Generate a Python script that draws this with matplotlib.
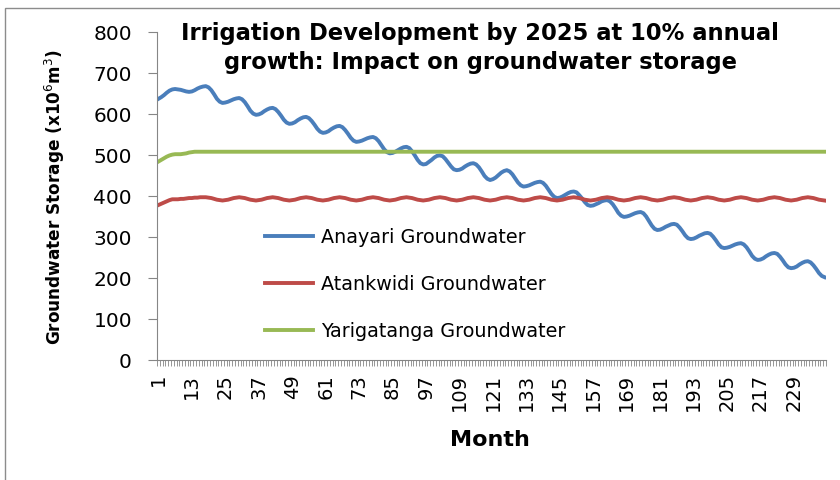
import matplotlib
matplotlib.use("Agg")
import matplotlib.pyplot as plt
from matplotlib.patches import Rectangle

# monthly groundwater storage (x10^6 m3), months 1..240, one row per year
anayari = [
    637, 641, 646, 652, 657, 660, 661, 660, 659, 657, 655, 654,
    655, 658, 662, 665, 667, 668, 665, 658, 648, 637, 630, 627,
    628, 630, 633, 636, 638, 639, 636, 629, 619, 608, 601, 598,
    599, 602, 607, 611, 614, 615, 612, 605, 596, 586, 579, 576,
    577, 580, 585, 589, 592, 593, 590, 583, 574, 564, 557, 554,
    555, 558, 563, 567, 570, 571, 568, 561, 552, 542, 535, 532,
    533, 535, 538, 541, 543, 544, 541, 534, 524, 514, 507, 504,
    505, 508, 512, 516, 519, 520, 517, 509, 499, 488, 480, 477,
    478, 483, 488, 494, 498, 499, 497, 490, 481, 472, 465, 463,
    464, 467, 472, 476, 479, 480, 477, 470, 460, 449, 442, 439,
    441, 445, 451, 457, 461, 463, 460, 453, 443, 433, 426, 423,
    424, 426, 429, 432, 434, 435, 432, 425, 415, 405, 398, 395,
    396, 399, 403, 407, 410, 411, 409, 402, 394, 385, 378, 376,
    377, 380, 383, 387, 389, 390, 387, 380, 370, 359, 352, 349,
    350, 352, 355, 358, 360, 361, 358, 350, 339, 328, 320, 317,
    318, 321, 325, 328, 331, 332, 330, 323, 314, 304, 297, 295,
    296, 299, 303, 306, 309, 310, 308, 301, 292, 282, 275, 273,
    274, 276, 279, 282, 284, 285, 282, 275, 265, 254, 247, 244,
    245, 248, 253, 257, 260, 261, 259, 252, 243, 233, 226, 224,
    225, 228, 233, 237, 240, 241, 238, 231, 222, 212, 205, 202,
]

atankwidi = [
    378, 381, 384, 387, 390, 392, 392, 392, 393, 393, 394, 395,
    395, 396, 396, 397, 397, 397, 396, 395, 393, 391, 390, 389,
    390, 391, 393, 395, 396, 397, 396, 395, 393, 391, 390, 389,
    390, 391, 393, 395, 396, 397, 396, 395, 393, 391, 390, 389,
    390, 391, 393, 395, 396, 397, 396, 395, 393, 391, 390, 389,
    390, 391, 393, 395, 396, 397, 396, 395, 393, 391, 390, 389,
    390, 391, 393, 395, 396, 397, 396, 395, 393, 391, 390, 389,
    390, 391, 393, 395, 396, 397, 396, 395, 393, 391, 390, 389,
    390, 391, 393, 395, 396, 397, 396, 395, 393, 391, 390, 389,
    390, 391, 393, 395, 396, 397, 396, 395, 393, 391, 390, 389,
    390, 391, 393, 395, 396, 397, 396, 395, 393, 391, 390, 389,
    390, 391, 393, 395, 396, 397, 396, 395, 393, 391, 390, 389,
    390, 391, 393, 395, 396, 397, 396, 395, 393, 391, 390, 389,
    390, 391, 393, 395, 396, 397, 396, 395, 393, 391, 390, 389,
    390, 391, 393, 395, 396, 397, 396, 395, 393, 391, 390, 389,
    390, 391, 393, 395, 396, 397, 396, 395, 393, 391, 390, 389,
    390, 391, 393, 395, 396, 397, 396, 395, 393, 391, 390, 389,
    390, 391, 393, 395, 396, 397, 396, 395, 393, 391, 390, 389,
    390, 391, 393, 395, 396, 397, 396, 395, 393, 391, 390, 389,
    390, 391, 393, 395, 396, 397, 396, 395, 393, 391, 390, 389,
]

yarigatanga = [
    484, 488, 492, 496, 499, 501, 502, 502, 502, 503, 504, 506,
    507, 508, 508, 508, 508, 508, 508, 508, 508, 508, 508, 508,
    508, 508, 508, 508, 508, 508, 508, 508, 508, 508, 508, 508,
    508, 508, 508, 508, 508, 508, 508, 508, 508, 508, 508, 508,
    508, 508, 508, 508, 508, 508, 508, 508, 508, 508, 508, 508,
    508, 508, 508, 508, 508, 508, 508, 508, 508, 508, 508, 508,
    508, 508, 508, 508, 508, 508, 508, 508, 508, 508, 508, 508,
    508, 508, 508, 508, 508, 508, 508, 508, 508, 508, 508, 508,
    508, 508, 508, 508, 508, 508, 508, 508, 508, 508, 508, 508,
    508, 508, 508, 508, 508, 508, 508, 508, 508, 508, 508, 508,
    508, 508, 508, 508, 508, 508, 508, 508, 508, 508, 508, 508,
    508, 508, 508, 508, 508, 508, 508, 508, 508, 508, 508, 508,
    508, 508, 508, 508, 508, 508, 508, 508, 508, 508, 508, 508,
    508, 508, 508, 508, 508, 508, 508, 508, 508, 508, 508, 508,
    508, 508, 508, 508, 508, 508, 508, 508, 508, 508, 508, 508,
    508, 508, 508, 508, 508, 508, 508, 508, 508, 508, 508, 508,
    508, 508, 508, 508, 508, 508, 508, 508, 508, 508, 508, 508,
    508, 508, 508, 508, 508, 508, 508, 508, 508, 508, 508, 508,
    508, 508, 508, 508, 508, 508, 508, 508, 508, 508, 508, 508,
    508, 508, 508, 508, 508, 508, 508, 508, 508, 508, 508, 508,
]

months = list(range(1, len(anayari) + 1))
month_labels = months[::12]
series_names = ['Anayari Groundwater', 'Atankwidi Groundwater', 'Yarigatanga Groundwater']

plt.rcParams['font.family'] = ['DejaVu Sans']

fig = plt.figure(figsize=(8.4, 4.8), dpi=100)
ax = fig.add_axes([0.1869, 0.25, 0.7964, 0.6833])

ax.plot(months, anayari, color='#4A7EBB', lw=2.8, solid_joinstyle='round', label=series_names[0])
ax.plot(months, atankwidi, color='#BE4B48', lw=2.8, solid_joinstyle='round', label=series_names[1])
ax.plot(months, yarigatanga, color='#98B954', lw=2.8, solid_joinstyle='round', label=series_names[2])

ax.set_xlim(0.5, len(months) + 0.5)
ax.set_ylim(0, 800)
ax.set_yticks(range(0, 801, 100))
ax.set_xticks(month_labels)
ax.set_xticklabels([str(m) for m in month_labels], rotation=90, va='top')
ax.set_xticks([m + 0.5 for m in [0] + months], minor=True)

for side in ['top', 'right']:
    ax.spines[side].set_visible(False)
for side in ['left', 'bottom']:
    ax.spines[side].set_color('#868686')
ax.tick_params(axis='y', length=6.5, width=0.8, color='#868686', pad=11.5, labelsize=14.5)
ax.tick_params(axis='x', which='major', length=0, pad=10, labelsize=14)
ax.tick_params(axis='x', which='minor', length=4, width=0.6, color='#868686')

ax.legend(loc='upper left', bbox_to_anchor=(265 / 840, 1 - 228 / 480),
          bbox_transform=fig.transFigure, frameon=False, fontsize=13.8,
          handlelength=2.5, handletextpad=0.4, labelspacing=1.45,
          borderpad=0, borderaxespad=0)

fig.text(480 / 840, 1 - 48 / 480,
         'Irrigation Development by 2025 at 10% annual\ngrowth: Impact on groundwater storage',
         ha='center', va='center', fontsize=16.3, fontweight='bold', linespacing=1.35)
fig.text(55 / 840, 1 - 197 / 480, 'Groundwater Storage (x10$^6$m$^3$)',
         rotation=90, ha='center', va='center', fontsize=12.2, fontweight='bold')
fig.text(490 / 840, 1 - 440 / 480, 'Month', ha='center', va='center',
         fontsize=16, fontweight='bold')

# chart area outline
fig.patches.append(Rectangle((5 / 840, -0.1), 1.2, 1.1 - 8 / 480, fill=False,
                             edgecolor='#8c8c8c', lw=1, transform=fig.transFigure))

fig.savefig('out.png', dpi=100)
